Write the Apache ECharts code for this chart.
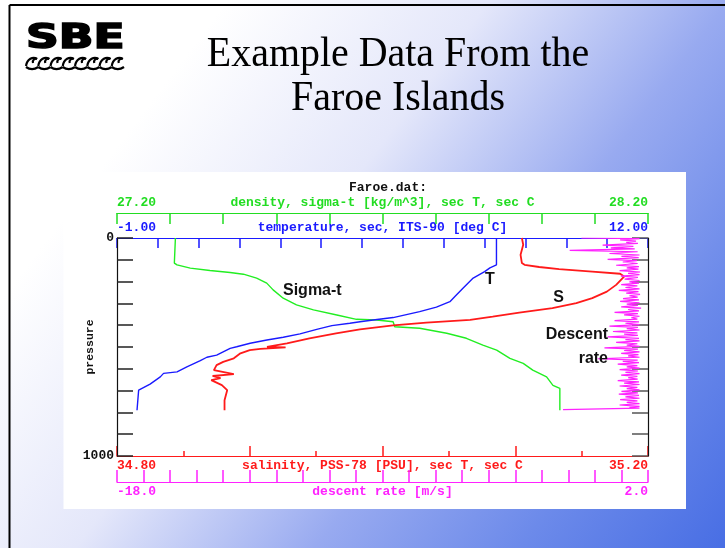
<!DOCTYPE html>
<html>
<head>
<meta charset="utf-8">
<title>Example Data From the Faroe Islands</title>
<script src="https://cdn.jsdelivr.net/npm/echarts@6/dist/echarts.min.js"></script>
<style>
  html, body { margin: 0; padding: 0; background: #fff; }
  #slide { width: 725px; height: 548px; }
</style>
</head>
<body>
<div id="slide"></div>
<script>
// axis ranges, as printed at the ends of each scale
const sigmaRange = [27.2, 28.2];
const temperatureRange = [-1, 12];
const salinityRange = [34.8, 35.2];
const descentRange = [-18, 2];
const pressureRange = [0, 1000];

// [temperature degC, pressure dbar]
const temperatureProfile = [
    [8.29, 0], [8.29, 123], [8.13, 137], [8.00, 154], [7.72, 184], [7.47, 230], [7.29, 265],
    [7.15, 292], [6.82, 317], [6.41, 338], [5.76, 365], [5.27, 376], [4.95, 384], [4.70, 391],
    [4.26, 402], [3.89, 419], [3.48, 440], [3.07, 455], [2.67, 468], [2.26, 483], [1.93, 499],
    [1.77, 506], [1.44, 537], [1.20, 547], [1.04, 563], [0.71, 591], [0.47, 614], [0.14, 621],
    [0.06, 637], [-0.19, 670], [-0.47, 698], [-0.51, 790],
];

// [sigma-t kg/m^3, pressure dbar]
const sigmaProfile = [
    [27.310, 0], [27.308, 115], [27.313, 123], [27.338, 138], [27.375, 149], [27.413, 158],
    [27.438, 166], [27.463, 184], [27.482, 207], [27.494, 238], [27.513, 276], [27.538, 307],
    [27.570, 330], [27.614, 353], [27.651, 373], [27.689, 376], [27.720, 384], [27.723, 407],
    [27.770, 414], [27.821, 437], [27.858, 460], [27.889, 491], [27.915, 514], [27.940, 552],
    [27.965, 575], [27.983, 606], [28.009, 637], [28.021, 676], [28.034, 690], [28.034, 790],
];

// [salinity PSU, pressure dbar]
const salinityProfile = [
    [35.105, 0], [35.106, 31], [35.104, 77], [35.105, 115], [35.107, 123], [35.118, 133],
    [35.133, 143], [35.158, 154], [35.179, 164], [35.182, 177], [35.176, 215], [35.169, 246],
    [35.158, 276], [35.146, 299], [35.128, 322], [35.103, 342], [35.083, 361], [35.066, 376],
    [35.033, 388], [35.008, 401], [34.983, 419], [34.965, 437], [34.945, 460], [34.928, 483],
    [34.913, 499], [34.927, 502], [34.908, 509], [34.900, 514], [34.893, 529], [34.888, 552],
    [34.880, 568], [34.875, 583], [34.873, 606], [34.888, 624], [34.872, 633], [34.878, 643],
    [34.871, 652], [34.879, 675], [34.883, 698], [34.881, 744], [34.881, 790],
];

// [descent rate m/s, pressure dbar]
const descentProfile = [
    [-0.51, 0], [1.68, 3], [0.95, 9], [1.55, 14], [1.18, 20], [1.62, 25], [0.29, 33], [1.45, 38],
    [0.60, 45], [1.50, 50], [-0.95, 57], [1.61, 63], [0.55, 71], [1.68, 78], [1.00, 84], [1.65, 90],
    [0.48, 98], [1.58, 104], [1.05, 110], [1.61, 117], [0.80, 125], [1.66, 131], [1.20, 137],
    [1.64, 143], [0.93, 150], [1.70, 156], [1.25, 162], [1.68, 168], [0.98, 175], [1.62, 181],
    [1.12, 189], [1.68, 195], [1.30, 201], [1.66, 207], [0.99, 214], [1.60, 220], [1.15, 227],
    [1.68, 233], [0.90, 240], [1.64, 246], [1.18, 253], [1.70, 259], [1.30, 265], [1.61, 271],
    [1.06, 278], [1.66, 284], [0.95, 291], [1.68, 297], [1.20, 303], [1.62, 309], [0.99, 316],
    [1.74, 322], [1.25, 328], [1.66, 334], [0.74, 341], [1.62, 347], [1.10, 353], [1.68, 359],
    [1.37, 366], [1.60, 372], [0.74, 379], [1.66, 385], [1.15, 391], [1.68, 397], [0.55, 404],
    [1.62, 410], [1.20, 416], [1.68, 422], [0.68, 429], [1.60, 435], [1.10, 441], [1.62, 447],
    [0.48, 454], [1.66, 460], [1.15, 466], [1.68, 472], [0.80, 479], [1.60, 485], [1.20, 491],
    [1.68, 497], [0.36, 504], [1.62, 510], [1.10, 516], [1.68, 522], [0.99, 529], [1.64, 535],
    [1.25, 541], [1.68, 547], [0.11, 554], [1.61, 560], [1.05, 566], [1.66, 572], [0.86, 579],
    [1.60, 585], [1.20, 591], [1.68, 597], [0.93, 604], [1.62, 610], [1.15, 616], [1.68, 622],
    [0.99, 629], [1.60, 635], [1.25, 641], [1.61, 647], [0.86, 654], [1.66, 660], [1.10, 666],
    [1.68, 672], [0.93, 679], [1.60, 685], [1.20, 691], [1.68, 697], [1.00, 704], [1.62, 710],
    [0.90, 716], [1.66, 722], [1.15, 729], [1.68, 735], [0.95, 741], [1.60, 747], [1.20, 754],
    [1.68, 760], [0.93, 766], [1.68, 772], [1.30, 777], [1.68, 780], [-1.20, 787],
];

const mono = "'Liberation Mono', 'DejaVu Sans Mono', monospace";
const near = (a, b) => Math.abs(a - b) < 1e-6;

const chart = echarts.init(document.getElementById('slide'), null, { renderer: 'canvas' });

// one of the four horizontal scales stacked above and below the plot
const scaleAxis = (o) => ({
    type: 'value',
    gridIndex: 0,
    position: o.position,
    offset: o.offset,
    min: o.range[0],
    max: o.range[1],
    interval: o.interval,
    z: 0,
    name: o.name,
    nameLocation: 'middle',
    nameGap: o.gap,
    nameMoveOverlap: false,
    nameTextStyle: { color: o.color, fontFamily: mono, fontSize: 13, fontWeight: 'bold' },
    axisLine: { show: true, onZero: false, lineStyle: { color: o.color, width: 1.2 } },
    axisTick: { show: true, inside: true, length: o.tick, lineStyle: { color: o.color, width: 1.5 } },
    minorTick: o.minor
        ? { show: true, splitNumber: o.minor, length: 5, lineStyle: { color: o.color, width: 1.5 } }
        : { show: false },
    axisLabel: {
        show: true,
        interval: 0,
        margin: o.gap,
        color: o.color,
        fontFamily: mono,
        fontSize: 13,
        fontWeight: 'bold',
        showMinLabel: true,
        showMaxLabel: true,
        alignMinLabel: 'left',
        alignMaxLabel: 'right',
        formatter: (v) => (near(v, o.range[0]) || near(v, o.range[1])) ? v.toFixed(o.digits) : '',
    },
    splitLine: { show: false },
});

const pressureAxis = (position, labels) => ({
    type: 'value',
    gridIndex: 0,
    position,
    inverse: true,
    min: pressureRange[0],
    max: pressureRange[1],
    interval: 100,
    z: 1,
    name: labels ? 'pressure' : '',
    nameLocation: 'middle',
    nameGap: 21,
    nameRotate: 90,
    nameMoveOverlap: false,
    nameTextStyle: { color: '#111', fontFamily: mono, fontSize: 11.5, fontWeight: 'bold' },
    axisLine: { show: true, onZero: false, lineStyle: { color: '#111', width: 1.2 } },
    axisTick: { show: true, inside: true, length: 16, lineStyle: { color: labels ? '#222' : '#555', width: 1.5 } },
    axisLabel: {
        show: labels,
        margin: 3,
        color: '#111',
        fontFamily: mono,
        fontSize: 13,
        fontWeight: 'bold',
        formatter: (v) => (v === pressureRange[0] || v === pressureRange[1]) ? String(v) : '',
    },
    splitLine: { show: false },
});

// SBE logo waves - decoration only
const waves = [];
for (let i = 0; i < 8; i++) {
    const x0 = 26 + i * 12.25;
    const stroke = { fill: null, stroke: '#000', lineWidth: 2.2 };
    waves.push(
        { type: 'bezierCurve', z: 5, shape: { x1: x0, y1: 66, cpx1: x0 + 1, cpy1: 59, cpx2: x0 + 7, cpy2: 56, x2: x0 + 11, y2: 59 }, style: stroke },
        { type: 'bezierCurve', z: 5, shape: { x1: x0 + 11, y1: 59, cpx1: x0 + 9, cpy1: 58, cpx2: x0 + 6, cpy2: 60, x2: x0 + 7, y2: 63 }, style: stroke },
        { type: 'bezierCurve', z: 5, shape: { x1: x0, y1: 67, cpx1: x0 + 4, cpy1: 70, cpx2: x0 + 8, cpy2: 70, x2: x0 + 12.25, y2: 67 }, style: stroke },
    );
}

const note = (text, x, y, align) => ({
    type: 'text',
    z: 10,
    x, y,
    style: { text, align, verticalAlign: 'middle', fill: '#111', font: "bold 16px 'Liberation Sans', Arial, sans-serif" },
});

chart.setOption({
    animation: false,
    backgroundColor: 'transparent',
    title: {
        text: 'Faroe.dat:',
        left: 383,
        top: 176,
        textAlign: 'center',
        textStyle: { color: '#111', fontFamily: mono, fontSize: 13, fontWeight: 'bold' },
    },
    grid: { left: 117, top: 238, width: 531, height: 218, containLabel: false, outerBoundsMode: 'none' },
    xAxis: [
        scaleAxis({ position: 'top', offset: 25, range: sigmaRange, interval: 0.1, digits: 2, tick: 11, gap: 4,
            color: '#22dd22', name: 'density, sigma-t [kg/m^3], sec T, sec C' }),
        scaleAxis({ position: 'top', offset: 0, range: temperatureRange, interval: 1, digits: 2, tick: 10, gap: 4,
            color: '#1a1aff', name: 'temperature, sec, ITS-90 [deg C]' }),
        scaleAxis({ position: 'bottom', offset: 0, range: salinityRange, interval: 0.1, minor: 2, digits: 2, tick: 10, gap: 3,
            color: '#ff1a1a', name: 'salinity, PSS-78 [PSU], sec T, sec C' }),
        scaleAxis({ position: 'bottom', offset: 26, range: descentRange, interval: 1, digits: 1, tick: 12, gap: 3,
            color: '#ff22ff', name: 'descent rate [m/s]' }),
    ],
    yAxis: [pressureAxis('left', true), pressureAxis('right', false)],
    series: [
        { name: 'sigma-t', data: sigmaProfile, xAxisIndex: 0, color: '#22ee22', width: 1.4 },
        { name: 'temperature', data: temperatureProfile, xAxisIndex: 1, color: '#1a1aff', width: 1.4 },
        { name: 'salinity', data: salinityProfile, xAxisIndex: 2, color: '#ff1a1a', width: 1.8 },
        { name: 'descent rate', data: descentProfile, xAxisIndex: 3, color: '#ff22ff', width: 1.2 },
    ].map(({ width, ...s }) => ({
        ...s,
        type: 'line',
        yAxisIndex: 0,
        z: 2,
        showSymbol: false,
        symbol: 'none',
        lineStyle: { width, color: s.color },
    })),
    graphic: [
        {
            type: 'rect', z: -10, silent: true,
            shape: { x: 0, y: 0, width: 725, height: 548 },
            style: {
                fill: new echarts.graphic.LinearGradient(0, 0, 725, 548, [
                    { offset: 0.2, color: '#ffffff' },
                    { offset: 0.43, color: '#e4e7fa' },
                    { offset: 0.64, color: '#98aaf0' },
                    { offset: 0.82, color: '#6c8aea' },
                    { offset: 1, color: '#486ee4' },
                ], true),
            },
        },
        { type: 'line', z: -9, shape: { x1: 9.5, y1: 5, x2: 9.5, y2: 548 }, style: { stroke: '#000', lineWidth: 2 } },
        { type: 'line', z: -9, shape: { x1: 9.5, y1: 5, x2: 725, y2: 5 }, style: { stroke: '#000', lineWidth: 2 } },
        { type: 'rect', z: -8, shape: { x: 63.5, y: 172, width: 622.5, height: 337 }, style: { fill: '#ffffff' } },
        {
            type: 'text', z: 5, x: 26, y: 39, scaleX: 1.38,
            style: { text: 'SBE', x: 0, y: 0, verticalAlign: 'middle', fill: '#000', stroke: '#000', lineWidth: 1.6, font: "bold 33px 'DejaVu Sans', sans-serif" },
        },
        ...waves,
        {
            type: 'text', z: 5, x: 398, y: 55, scaleX: 0.95,
            style: { text: 'Example Data From the', x: 0, y: 0, align: 'center', verticalAlign: 'middle', fill: '#000', font: "42px 'Liberation Serif', 'Times New Roman', serif" },
        },
        {
            type: 'text', z: 5, x: 398, y: 99, scaleX: 0.95,
            style: { text: 'Faroe Islands', x: 0, y: 0, align: 'center', verticalAlign: 'middle', fill: '#000', font: "42px 'Liberation Serif', 'Times New Roman', serif" },
        },
        note('Sigma-t', 283, 291, 'left'),
        note('T', 490, 280, 'center'),
        note('S', 558.5, 298, 'center'),
        note('Descent', 608, 335, 'right'),
        note('rate', 608, 359, 'right'),
    ],
});
</script>
</body>
</html>
